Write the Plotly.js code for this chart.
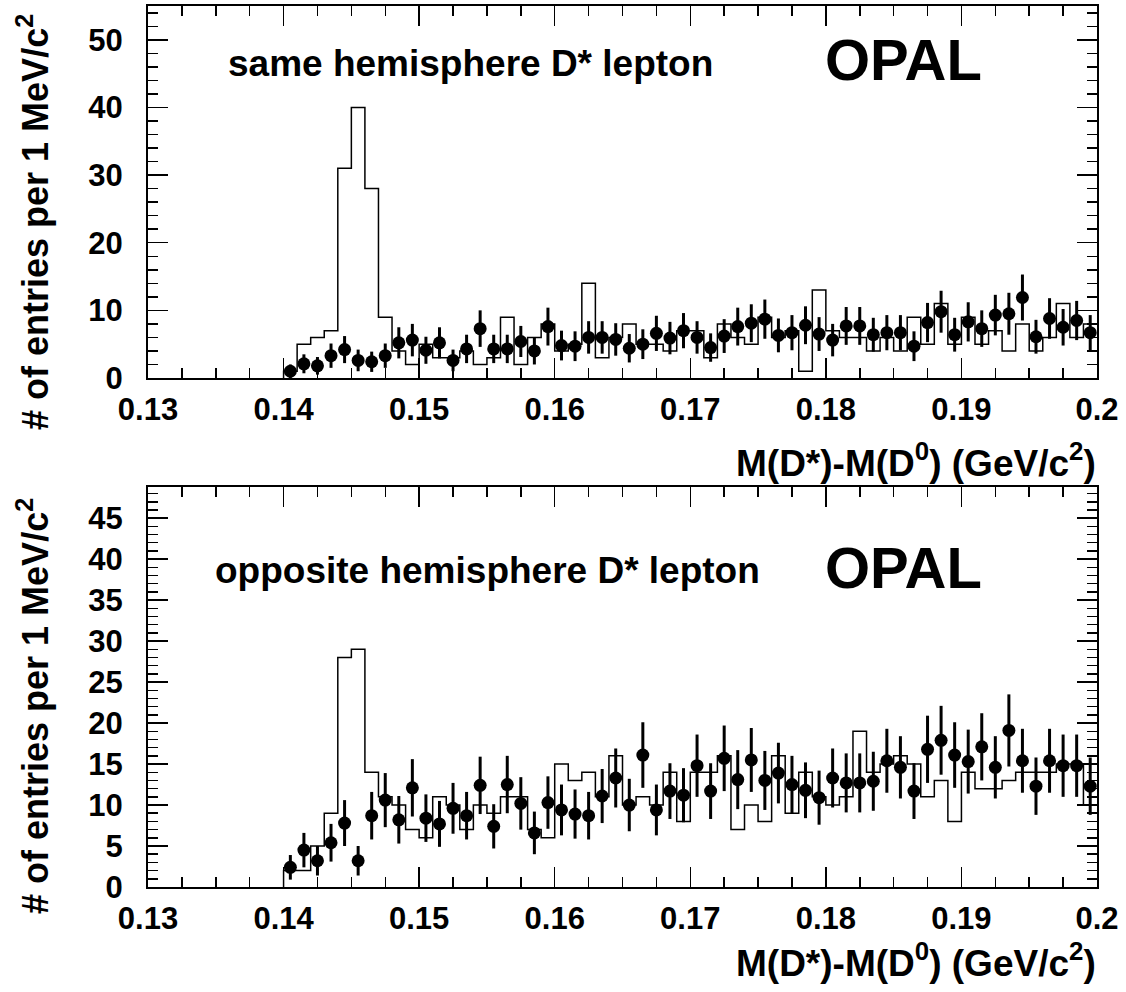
<!DOCTYPE html>
<html>
<head>
<meta charset="utf-8">
<script src="https://cdn.plot.ly/plotly-3.0.1.min.js"></script>
<style>
  html, body { margin: 0; padding: 0; background: #fff; }
  #chart { width: 1126px; height: 992px; }
</style>
</head>
<body>
<div id="chart"></div>
<script>
// ---------- data ----------
// bin centres of M(D*)-M(D0) in GeV/c^2 (1 MeV bins)
const massBins = [
  0.1405,0.1415,0.1425,0.1435,0.1445,0.1455,0.1465,0.1475,0.1485,0.1495,
  0.1505,0.1515,0.1525,0.1535,0.1545,0.1555,0.1565,0.1575,0.1585,0.1595,
  0.1605,0.1615,0.1625,0.1635,0.1645,0.1655,0.1665,0.1675,0.1685,0.1695,
  0.1705,0.1715,0.1725,0.1735,0.1745,0.1755,0.1765,0.1775,0.1785,0.1795,
  0.1805,0.1815,0.1825,0.1835,0.1845,0.1855,0.1865,0.1875,0.1885,0.1895,
  0.1905,0.1915,0.1925,0.1935,0.1945,0.1955,0.1965,0.1975,0.1985,0.1995
];

// same hemisphere: data points, errors, MC histogram
const sameData = [
  1.0,2.1,1.8,3.3,4.2,2.6,2.4,3.3,5.2,5.6,
  4.1,5.2,2.6,4.3,7.3,4.3,4.3,5.4,4.0,7.6,
  4.8,4.7,6.0,6.0,5.7,4.4,5.0,6.6,5.9,7.0,
  6.0,4.5,6.2,7.6,8.1,8.7,6.3,6.7,7.8,6.5,
  5.6,7.7,7.7,6.4,6.7,6.7,4.7,8.2,9.8,6.4,
  8.3,7.3,9.3,9.5,11.9,6.1,8.8,7.5,8.5,6.7
];
const sameErr = [
  1.0,1.4,1.3,1.8,2.0,1.6,1.5,1.8,2.3,2.4,
  2.0,2.3,1.6,2.1,2.7,2.1,2.1,2.3,2.0,2.8,
  2.2,2.2,2.4,2.4,2.4,2.1,2.2,2.6,2.4,2.6,
  2.4,2.1,2.5,2.8,2.8,2.9,2.5,2.6,2.8,2.5,
  2.4,2.8,2.8,2.5,2.6,2.6,2.2,2.9,3.1,2.5,
  2.9,2.7,3.0,3.1,3.4,2.5,3.0,2.7,2.9,2.6
];
const sameMC = [
  1,5,6,7,31,40,28,9,4,2,
  5,3,3,4,2,3,9,2,6,8,
  4,5,14,3,6,8,5,5,4,7,
  7,3,8,6,5,9,6,7,1,13,
  7,6,6,4,6,4,9,5,11,5,
  9,5,7,4,8,4,6,11,6,8
];

// opposite hemisphere
const oppData = [
  2.4,4.5,3.2,5.4,7.8,3.2,8.7,10.6,8.2,12.1,
  8.4,7.7,9.6,8.7,12.4,7.4,12.5,10.2,6.6,10.3,
  9.4,8.9,8.7,11.1,13.3,10.0,16.1,9.4,11.7,11.2,
  14.8,11.7,15.7,13.1,15.5,13.0,13.9,12.5,11.8,10.9,
  13.3,12.7,12.7,12.9,15.4,14.6,11.7,16.8,17.9,16.1,
  15.3,17.1,14.6,19.1,15.4,12.3,15.4,14.8,14.8,12.3
];
const oppErr = [
  1.5,2.1,1.8,2.3,2.8,1.8,2.9,3.3,2.9,3.5,
  2.9,2.8,3.1,2.9,3.5,2.7,3.5,3.2,2.6,3.2,
  3.1,3.0,2.9,3.3,3.6,3.2,4.0,3.1,3.4,3.3,
  3.8,3.4,4.0,3.6,3.9,3.6,3.7,3.5,3.4,3.3,
  3.6,3.6,3.6,3.6,3.9,3.8,3.4,4.1,4.2,4.0,
  3.9,4.1,3.8,4.4,3.9,3.5,3.9,3.8,3.8,3.5
];
const oppMC = [
  2,2,5,9,28,29,14,11,10,7,
  6,11,10,7,10,9,11,11,7,6,
  15,13,14,11,16,10,11,10,14,8,
  14,14,16,7,10,8,16,9,14,11,
  10,11,19,14,15,16,15,11,13,8,
  14,12,12,13,14,14,14,15,15,10
];

const xTitle = '<b>M(D*)-M(D<sup>0</sup>) (GeV/c<sup>2</sup>)</b>';
const yTitle = '<b># of entries per 1 MeV/c<sup>2</sup></b>';
const labelSame = '<b>same hemisphere D* lepton</b>';
const labelOpp = '<b>opposite hemisphere D* lepton</b>';
const labelExp = '<b>OPAL</b>';

// ---------- helpers ----------
const HALF = 0.0005; // half bin width
function stepX(centres) {
  const xs = [centres[0] - HALF];
  centres.forEach(c => xs.push(c - HALF));
  xs.push(centres[centres.length - 1] + HALF);
  return xs;
}
function stepY(vals) {
  const ys = [0];
  vals.forEach(v => ys.push(v));
  ys.push(vals[vals.length - 1]);
  return ys;
}

const FONT = 'Liberation Sans, Arial, Helvetica, sans-serif';

function histTrace(vals, xa, ya) {
  return {
    type: 'scatter', mode: 'lines',
    x: stepX(massBins), y: stepY(vals),
    line: { shape: 'hv', color: '#000', width: 1.5 },
    xaxis: xa, yaxis: ya, hoverinfo: 'skip', showlegend: false
  };
}
function dataTrace(vals, errs, xa, ya) {
  return {
    type: 'scatter', mode: 'markers',
    x: massBins, y: vals,
    marker: { color: '#000', size: 13 },
    error_y: { type: 'data', array: errs, visible: true, color: '#000', thickness: 3, width: 0 },
    xaxis: xa, yaxis: ya, showlegend: false, cliponaxis: false
  };
}

const traces = [
  histTrace(sameMC, 'x2', 'y2'),
  dataTrace(sameData, sameErr, 'x2', 'y2'),
  histTrace(oppMC, 'x', 'y'),
  dataTrace(oppData, oppErr, 'x', 'y')
];

function xAxis(anchor) {
  return {
    anchor: anchor, domain: [0, 1], range: [0.13, 0.2],
    tick0: 0.13, dtick: 0.01, ticks: 'inside', ticklen: 20, tickwidth: 1.5, tickcolor: '#000',
    minor: { dtick: 0.0025, tick0: 0.13, ticks: 'inside', ticklen: 10, tickwidth: 1.5, tickcolor: '#000', showgrid: false },
    showline: true, linewidth: 2, linecolor: '#000', mirror: 'ticks',
    showgrid: false, zeroline: false,
    tickfont: { family: FONT, size: 31, color: '#000', weight: 'bold' },
    ticklabelstandoff: 3
  };
}
function yAxis(anchor, domain, range, dt, mdt) {
  return {
    anchor: anchor, domain: domain, range: range,
    tick0: 0, dtick: dt, ticks: 'inside', ticklen: 20, tickwidth: 1.5, tickcolor: '#000',
    minor: { dtick: mdt, tick0: 0, ticks: 'inside', ticklen: 10, tickwidth: 1.5, tickcolor: '#000', showgrid: false },
    showline: true, linewidth: 2, linecolor: '#000', mirror: 'ticks',
    showgrid: false, zeroline: false,
    tickfont: { family: FONT, size: 31, color: '#000', weight: 'bold' },
    ticklabelstandoff: 17
  };
}

const W = 1126, H = 992;
const mL = 148, mR = 29, mT = 6, mB = 105;
const plotH = H - mT - mB;
const pw = W - mL - mR;
const px2x = p => (p - mL) / pw;
const py2y = p => (H - mB - p) / plotH;

const layout = {
  width: W, height: H,
  margin: { l: mL, r: mR, t: mT, b: mB },
  paper_bgcolor: '#fff', plot_bgcolor: '#fff',
  showlegend: false,
  xaxis: xAxis('y'),
  yaxis: yAxis('x', [0, py2y(487)], [0, 48.8], 5, 1),
  xaxis2: xAxis('y2'),
  yaxis2: yAxis('x2', [py2y(378), 1], [0, 55], 10, 2),
  annotations: [
    { text: labelSame, xref: 'paper', yref: 'paper', x: px2x(226), y: py2y(63), xanchor: 'left', yanchor: 'middle', showarrow: false, font: { family: FONT, size: 37, color: '#000' } },
    { text: labelExp, xref: 'paper', yref: 'paper', x: px2x(823), y: py2y(59), xanchor: 'left', yanchor: 'middle', showarrow: false, font: { family: FONT, size: 58, color: '#000' } },
    { text: labelOpp, xref: 'paper', yref: 'paper', x: px2x(213), y: py2y(570), xanchor: 'left', yanchor: 'middle', showarrow: false, font: { family: FONT, size: 37, color: '#000' } },
    { text: labelExp, xref: 'paper', yref: 'paper', x: px2x(823), y: py2y(567), xanchor: 'left', yanchor: 'middle', showarrow: false, font: { family: FONT, size: 58, color: '#000' } },
    { text: xTitle, xref: 'paper', yref: 'paper', x: px2x(1098), y: py2y(461), xanchor: 'right', yanchor: 'middle', showarrow: false, font: { family: FONT, size: 37, color: '#000' } },
    { text: xTitle, xref: 'paper', yref: 'paper', x: px2x(1098), y: py2y(960), xanchor: 'right', yanchor: 'middle', showarrow: false, font: { family: FONT, size: 37, color: '#000' } },
    { text: yTitle, xref: 'paper', yref: 'paper', x: px2x(33), y: py2y(222), xanchor: 'center', yanchor: 'middle', textangle: -90, showarrow: false, font: { family: FONT, size: 36, color: '#000' } },
    { text: yTitle, xref: 'paper', yref: 'paper', x: px2x(33), y: py2y(706), xanchor: 'center', yanchor: 'middle', textangle: -90, showarrow: false, font: { family: FONT, size: 36, color: '#000' } }
  ]
};

Plotly.newPlot('chart', traces, layout, { staticPlot: true, displayModeBar: false });
</script>
</body>
</html>
